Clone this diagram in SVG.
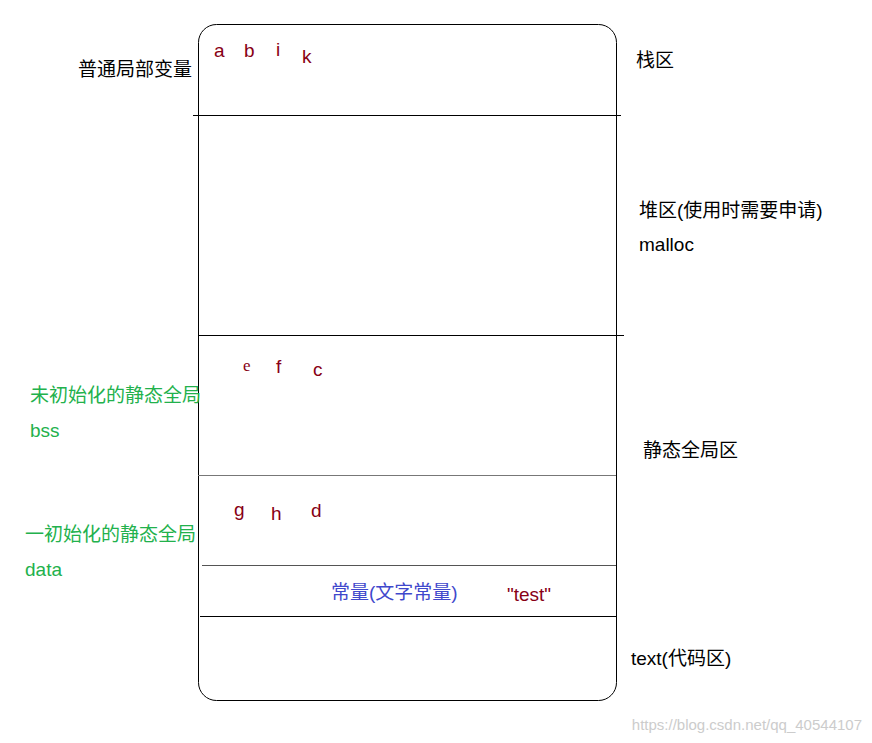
<svg xmlns="http://www.w3.org/2000/svg" width="872" height="743" viewBox="0 0 872 743">
<style>
text{font-family:"Liberation Sans","Noto Sans CJK SC",sans-serif;font-size:19px}
.r{fill:#880015}
.k{fill:#000}
.g{fill:#22b14c}
.b{fill:#3f48cc}
.ln{stroke:#000;stroke-width:1}
</style>
<rect width="872" height="743" fill="#fff"/>
<g id="memory">
<rect x="198.5" y="24.5" width="418" height="676" rx="18" fill="none" stroke="#000"/>
</g>
<g id="connectors">
<line class="ln" x1="193" y1="115.5" x2="621" y2="115.5"/>
<line class="ln" x1="198" y1="335.5" x2="624" y2="335.5"/>
<line x1="198" y1="475.5" x2="616" y2="475.5" stroke="#777"/>
<line x1="202" y1="565.5" x2="616" y2="565.5" stroke="#555"/>
<line class="ln" x1="200" y1="616.5" x2="616" y2="616.5"/>
</g>
<g id="stack">
<text x="214" y="57" class="r">a</text><text x="244" y="57" class="r">b</text><text x="276" y="56" class="r">i</text><text x="302" y="63" class="r">k</text>
<text x="78" y="76" class="k">普通局部变量</text>
<text x="636" y="67" class="k">栈区</text>
</g>
<g id="heap">
<text x="639" y="217" class="k">堆区(使用时需要申请)</text>
<text x="639" y="251" class="k">malloc</text>
</g>
<g id="bss">
<text x="243" y="371" class="r" style="font-family:'Liberation Serif',serif;font-size:17px">e</text><text x="276" y="373" class="r">f</text><text x="313" y="376" class="r">c</text>
<text x="30" y="402" class="g">未初始化的静态全局</text>
<text x="30" y="437" class="g">bss</text>
<text x="643" y="457" class="k">静态全局区</text>
</g>
<g id="data">
<text x="234" y="516" class="r">g</text><text x="271" y="520" class="r">h</text><text x="311" y="517" class="r">d</text>
<text x="25" y="541" class="g">一初始化的静态全局</text>
<text x="25" y="576" class="g">data</text>
</g>
<g id="const">
<text x="331" y="599" class="b">常量(文字常量)</text>
<text x="507" y="601" class="r">"test"</text>
</g>
<g id="text">
<text x="631" y="665" class="k">text(代码区)</text>
</g>
<text x="862" y="730" text-anchor="end" style="font-size:15px;fill:#ccc">https://blog.csdn.net/qq_40544107</text>
</svg>
